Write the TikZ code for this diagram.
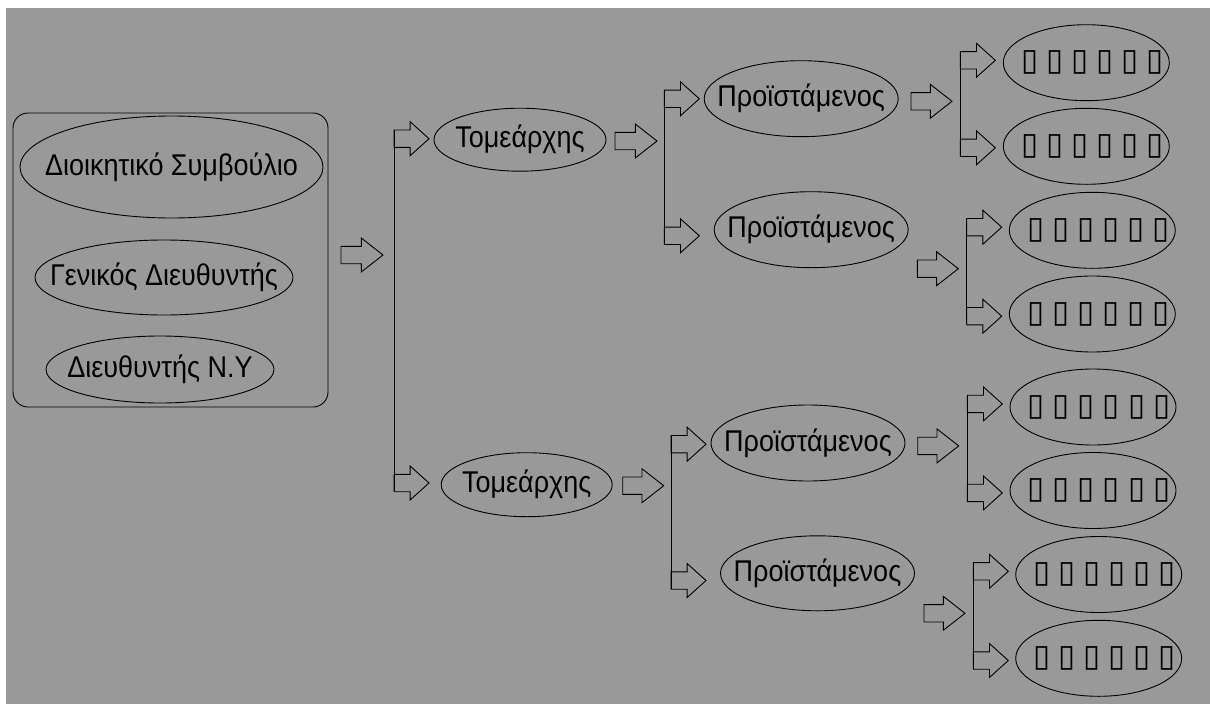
\documentclass[tikz,border=0pt]{standalone}
\usepackage{fontspec}
\setmainfont{Liberation Sans}[FakeStretch=0.9]
\newfontfamily\boxfont{DejaVu Sans}
\usetikzlibrary{shapes,positioning,calc}
\definecolor{panel}{RGB}{153,153,153}
% keep the label from widening its ellipse
\newcommand\inoval[1]{\makebox[0pt]{#1}}
\newcommand\spacedoval[1]{\makebox[0pt]{\hspace{12pt}\spaceskip=8pt\relax#1}}

\tikzset{
  oval/.style={draw, ellipse, inner sep=0pt, font=\fontsize{30}{36}\selectfont},
  unit/.style={oval, minimum width=166pt, minimum height=76pt,
    font=\boxfont\fontsize{31}{36}\selectfont},
  bigarrow/.style={draw, single arrow, single arrow head extend=8.25pt, minimum width=33pt,
    minimum height=42pt, single arrow tip angle=76, inner xsep=0pt, inner ysep=8.25pt,
    outer sep=0pt, anchor=tail},
  subarrow/.style={bigarrow, minimum height=35pt, single arrow tip angle=84},
}

\begin{document}
\begin{tikzpicture}[x=1pt, y=-1pt, line width=0.9pt]
    % page
    \path[use as bounding box, fill=white] (0,0) rectangle (1210,704);
    \fill[panel] (6,8) rectangle (1210,704);

    % board
    \node[draw, rounded corners=15pt, minimum width=315pt, minimum height=294pt] (board) at (170.5,260) {};
    \node[oval, minimum width=303pt, minimum height=102pt] (ds) at (171.5,167) {\inoval{Διοικητικό Συμβούλιο}};
    \node[oval, minimum width=258pt, minimum height=75pt] (gd) at (164,277.5) {\inoval{Γενικός Διευθυντής}};
    \node[oval, minimum width=228pt, minimum height=67pt] (dny) at (160,369.5) {\inoval{Διευθυντής Ν.Υ}};

    % sectors
    \node[bigarrow] (a0) at (341,255) {};
    \node[subarrow] (b1) at (394,138.7) {};
    \node[subarrow] (b2) at (394,483) {};
    \draw ([yshift=8.25pt]b1.tail) -- ([yshift=-8.25pt]b2.tail);
    \node[oval, minimum width=172pt, minimum height=63pt] (t1) at (520,139.7) {\inoval{Τομεάρχης}};
    \node[oval, minimum width=171pt, minimum height=64pt] (t2) at (526.7,484.7) {\inoval{Τομεάρχης}};

    % heads
    \node[bigarrow] (a1) at (615,141) {};
    \node[bigarrow, minimum height=41pt] (a2) at (622.7,485.7) {};
    \node[subarrow] (c1) at (664.3,98.8) {};
    \node[subarrow] (c2) at (664.3,235.8) {};
    \node[subarrow] (c3) at (671,444.2) {};
    \node[subarrow] (c4) at (671,580.5) {};
    \draw ([yshift=8.25pt]c1.tail) -- ([yshift=-8.25pt]c2.tail);
    \draw ([yshift=8.25pt]c3.tail) -- ([yshift=-8.25pt]c4.tail);
    \node[oval, minimum width=194pt, minimum height=76pt] (p1) at (801.2,98.7) {\inoval{Προϊστάμενος}};
    \node[oval, minimum width=194pt, minimum height=76pt] (p2) at (811.2,229.7) {\inoval{Προϊστάμενος}};
    \node[oval, minimum width=194pt, minimum height=76pt] (p3) at (808,443) {\inoval{Προϊστάμενος}};
    \node[oval, minimum width=194pt, minimum height=75pt] (p4) at (817.5,573.3) {\inoval{Προϊστάμενος}};

    % units
    \foreach \n/\ax/\ay/\lx/\ty/\by/\ux/\uy/\vy in {
        1/911/101.3/960.3/60.3/147.8/1086.3/62.7/146.3,
        2/917.3/268.7/966.7/227.2/316.2/1092.3/230.3/314,
        3/917.7/445.9/967.3/403.9/492.9/1093/407/490.5,
        4/924/613.3/973.3/571.3/660.5/1098.7/574.5/658.3} {
        \node[bigarrow, minimum height=41pt] (d\n) at (\ax,\ay) {};
        \node[subarrow] (e\n) at (\lx,\ty) {};
        \node[subarrow] (f\n) at (\lx,\by) {};
        \draw ([yshift=8.25pt]e\n.tail) -- ([yshift=-8.25pt]f\n.tail);
        \node[unit] (u\n) at (\ux,\uy) {\spacedoval{▯ ▯ ▯ ▯ ▯ ▯}};
        \node[unit] (v\n) at (\ux,\vy) {\spacedoval{▯ ▯ ▯ ▯ ▯ ▯}};
    }
\end{tikzpicture}
\end{document}
